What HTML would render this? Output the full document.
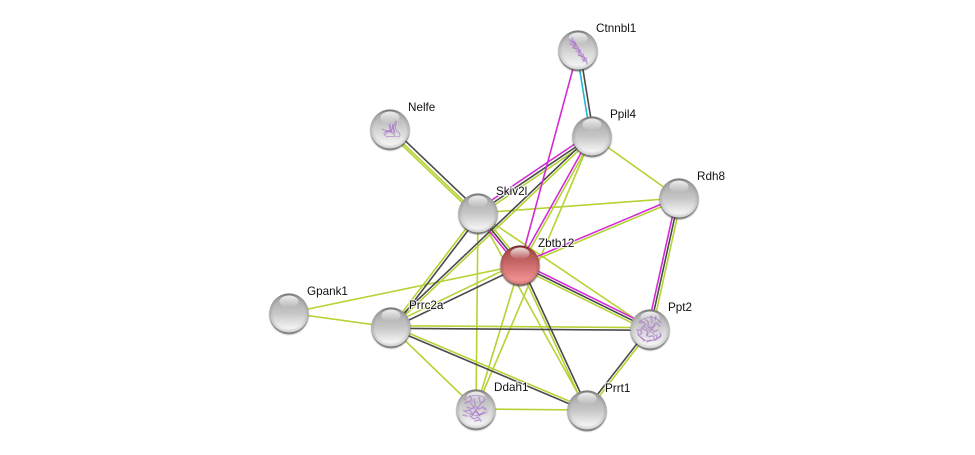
<!DOCTYPE html>
<html>
<head>
<meta charset="utf-8">
<style>
html,body{margin:0;padding:0;background:#fff;width:975px;height:455px;overflow:hidden}
svg{display:block}
.e line{stroke-width:1.6;fill:none}
.y line{stroke:#b4d334}
.k line{stroke:#4a4a4a}
.m line{stroke:#d42ad4}
.c line{stroke:#22b4d0}
text{font-family:"Liberation Sans",sans-serif;font-size:11.7px;fill:#111;paint-order:stroke;stroke:rgba(255,255,255,.75);stroke-width:2.5px;stroke-linejoin:round}
.p path{fill:none;stroke:#b27fd0;stroke-width:1.5;opacity:.7;stroke-linecap:round}
.p path.t{stroke-width:.8;stroke:#9a6ac0}
</style>
</head>
<body>
<svg width="975" height="455" viewBox="0 0 975 455" xmlns="http://www.w3.org/2000/svg">
<defs>
<linearGradient id="g" x1="0" y1="0" x2="0" y2="1">
<stop offset="0" stop-color="#7e7e7e"/><stop offset=".12" stop-color="#aaa"/><stop offset=".5" stop-color="#c6c6c6"/><stop offset=".88" stop-color="#f2f2f2"/><stop offset="1" stop-color="#e8e8e8"/>
</linearGradient>
<linearGradient id="gs" x1="0" y1="0" x2="0" y2="1">
<stop offset="0" stop-color="#7e7e7e"/><stop offset=".12" stop-color="#aeaeae"/><stop offset=".5" stop-color="#d2d2d2"/><stop offset=".88" stop-color="#f2f2f2"/><stop offset="1" stop-color="#e8e8e8"/>
</linearGradient>
<linearGradient id="r" x1="0" y1="0" x2="0" y2="1">
<stop offset="0" stop-color="#7c2828"/><stop offset=".12" stop-color="#ac4e4e"/><stop offset=".5" stop-color="#cc6c6c"/><stop offset=".88" stop-color="#f29090"/><stop offset="1" stop-color="#e88484"/>
</linearGradient>
<radialGradient id="edge" cx=".5" cy=".5" r=".5">
<stop offset=".8" stop-color="#000" stop-opacity="0"/><stop offset="1" stop-color="#000" stop-opacity=".13"/>
</radialGradient>
<linearGradient id="h" x1="0" y1="0" x2="0" y2="1">
<stop offset="0" stop-color="#fff" stop-opacity=".85"/><stop offset="1" stop-color="#fff" stop-opacity="0"/>
</linearGradient>
<filter id="b" x="-30%" y="-30%" width="160%" height="160%"><feGaussianBlur stdDeviation=".8"/></filter>
<g id="n">
<circle cx="0" cy="1.8" r="19.6" fill="#444" opacity=".8" filter="url(#b)"/>
<circle cx="0" cy="0" r="19.6" fill="url(#g)"/>
<circle cx="0" cy="0" r="19.6" fill="url(#edge)"/>
<ellipse cx="0" cy="-11.5" rx="9.5" ry="6" fill="url(#h)"/>
</g>
<g id="ns">
<circle cx="0" cy="1.8" r="19.6" fill="#444" opacity=".8" filter="url(#b)"/>
<circle cx="0" cy="0" r="19.6" fill="url(#gs)"/>
<circle cx="0" cy="0" r="19.6" fill="url(#edge)"/>
<ellipse cx="0" cy="-11.5" rx="9.5" ry="6" fill="url(#h)"/>
</g>
<g id="nr">
<circle cx="0" cy="1.8" r="19.6" fill="#443333" opacity=".8" filter="url(#b)"/>
<circle cx="0" cy="0" r="19.6" fill="url(#r)"/>
<circle cx="0" cy="0" r="19.6" fill="url(#edge)"/>
<ellipse cx="0" cy="-11.5" rx="9.5" ry="6" fill="url(#h)"/>
</g>
</defs>

<g class="e y">
<line x1="593.4" y1="138.1" x2="479.4" y2="215.1"/>
<line x1="592.8" y1="136.9" x2="391.8" y2="327.9"/>
<line x1="593.1" y1="136.6" x2="521.1" y2="265.6"/>
<line x1="592" y1="136" x2="476" y2="409"/>
<line x1="592" y1="136" x2="679" y2="198"/>
<line x1="389" y1="130" x2="477" y2="214"/>
<line x1="387.6" y1="131.4" x2="475.6" y2="215.4"/>
<line x1="478" y1="213" x2="679" y2="198"/>
<line x1="479.9" y1="211.5" x2="521.9" y2="263.5"/>
<line x1="478" y1="213" x2="391" y2="327"/>
<line x1="478" y1="213" x2="476" y2="409"/>
<line x1="478" y1="213" x2="650" y2="329"/>
<line x1="478" y1="213" x2="587" y2="410"/>
<line x1="520.5" y1="266.1" x2="679.5" y2="199.1"/>
<line x1="518.9" y1="267.2" x2="648.9" y2="331.2"/>
<line x1="518.9" y1="265.5" x2="585.9" y2="410.5"/>
<line x1="520" y1="265" x2="476" y2="409"/>
<line x1="519" y1="262.8" x2="390" y2="324.8"/>
<line x1="520" y1="265" x2="289" y2="313"/>
<line x1="289" y1="313" x2="391" y2="327"/>
<line x1="391" y1="325.7" x2="650" y2="327.7"/>
<line x1="391.5" y1="325.9" x2="587.5" y2="408.9"/>
<line x1="391" y1="327" x2="476" y2="409"/>
<line x1="681.4" y1="198.5" x2="652.4" y2="329.5"/>
<line x1="651" y1="329.7" x2="588" y2="410.7"/>
<line x1="476" y1="409" x2="587" y2="410"/>
</g>
<g class="e k">
<line x1="579.8" y1="50" x2="593.7" y2="136"/>
<line x1="592" y1="136" x2="478" y2="213"/>
<line x1="591.2" y1="135.1" x2="390.2" y2="326.1"/>
<line x1="391.4" y1="127.6" x2="479.4" y2="211.6"/>
<line x1="478" y1="213" x2="520" y2="265"/>
<line x1="480.1" y1="214.6" x2="393.1" y2="328.6"/>
<line x1="520" y1="265" x2="650" y2="329"/>
<line x1="521.1" y1="264.5" x2="588.1" y2="409.5"/>
<line x1="520.7" y1="266.4" x2="391.7" y2="328.4"/>
<line x1="391" y1="328.3" x2="650" y2="330.3"/>
<line x1="390.5" y1="328.1" x2="586.5" y2="411.1"/>
<line x1="679" y1="198" x2="650" y2="329"/>
<line x1="649" y1="328.3" x2="586" y2="409.3"/>
</g>
<g class="e m">
<line x1="578" y1="50" x2="520" y2="265"/>
<line x1="590.3" y1="133.5" x2="476.3" y2="210.5"/>
<line x1="590.9" y1="135.4" x2="518.9" y2="264.4"/>
<line x1="476.1" y1="214.5" x2="518.1" y2="266.5"/>
<line x1="519.5" y1="263.9" x2="678.5" y2="196.9"/>
<line x1="521.1" y1="262.8" x2="651.1" y2="326.8"/>
<line x1="676.6" y1="197.5" x2="647.6" y2="328.5"/>
</g>
<g class="e c">
<line x1="576.5" y1="50" x2="590.4" y2="136"/>
</g>

<use href="#ns" x="578" y="50"/>
<use href="#n" x="592" y="136"/>
<use href="#ns" x="390" y="129"/>
<use href="#n" x="679" y="198"/>
<use href="#n" x="478" y="213"/>
<use href="#nr" x="520" y="265"/>
<use href="#n" x="289" y="313"/>
<use href="#n" x="391" y="327"/>
<use href="#ns" x="650" y="329"/>
<use href="#ns" x="476" y="409"/>
<use href="#n" x="587" y="410"/>

<g class="p">
<path d="M570 41l5 3M572 38l3 7M570 44l6 2M574 41l4 7M573 47l5 2M577 46l3 7M576 51l5 2M580 50l2 7M579 55l5 2M583 54l2 7M582 59l5 3M586 58l1 6"/>
<path class="t" d="M569 39l7 5-3 4 7 2-2 5 7 3-2 4"/>
<path class="t" d="M384 133c3-4 6-1 9-5s1-6 3-7c1 3-2 6 0 9s4 2 4 5-5 2-6 0-3-5-6-3-2 5-4 2zM389 125l2 8 2-9 2 10M382 129c3 2 6 1 8 3M386 137c3-1 6 0 9-1"/>
<path d="M390 124l1 8M393 125l1 7M386 132l6-1"/>
<path d="M640 323c2-2 4-1 5 1s-3 3-4 5 2 3 0 5-3 0-3-2M646 320c2 1 3 3 2 5s3 3 5 2 1-4 3-4 2 3 4 3M651 316l1 6M643 329c2 1 3 0 4 2s-1 3 1 5 3-1 5 0 0 4 2 4 2-3 2-5M648 327l6 4M654 332l4-2M660 333c1 2 1 4-1 5M641 337c1 2 3 2 3 4M647 342c1-2 3-1 4-2M637 330l3 0M656 316l-1 4"/>
<path class="t" d="M639 322c4-3 8-5 12-5s8 3 10 6M638 335c3 3 7 6 11 6s9-2 12-6M644 326l12 10M655 325l-9 11"/>
<path d="M465 403l5-2M470 396l2 5M474 399l1 5M479 397l1 5M484 398c1 2 0 4-2 4M467 407l5 2 3-3 4 3 4-2 3 2M465 411l5-1 2 4 4-3 3 4 5-3M470 416l4 3 4-2 3 4M463 415l4 1M475 421l4-1M482 407l4 3"/>
<path class="t" d="M464 400c5-4 12-6 20-3M463 410c6 5 14 8 24 2M470 402l10 14M482 402l-10 14"/>
</g>

<text x="596" y="32">Ctnnbl1</text>
<text x="610" y="118">Ppil4</text>
<text x="408" y="111">Nelfe</text>
<text x="697" y="180">Rdh8</text>
<text x="496" y="195">Skiv2l</text>
<text x="538" y="247">Zbtb12</text>
<text x="307" y="295">Gpank1</text>
<text x="409" y="309">Prrc2a</text>
<text x="668" y="311">Ppt2</text>
<text x="494" y="391">Ddah1</text>
<text x="605" y="392">Prrt1</text>
</svg>
</body>
</html>
